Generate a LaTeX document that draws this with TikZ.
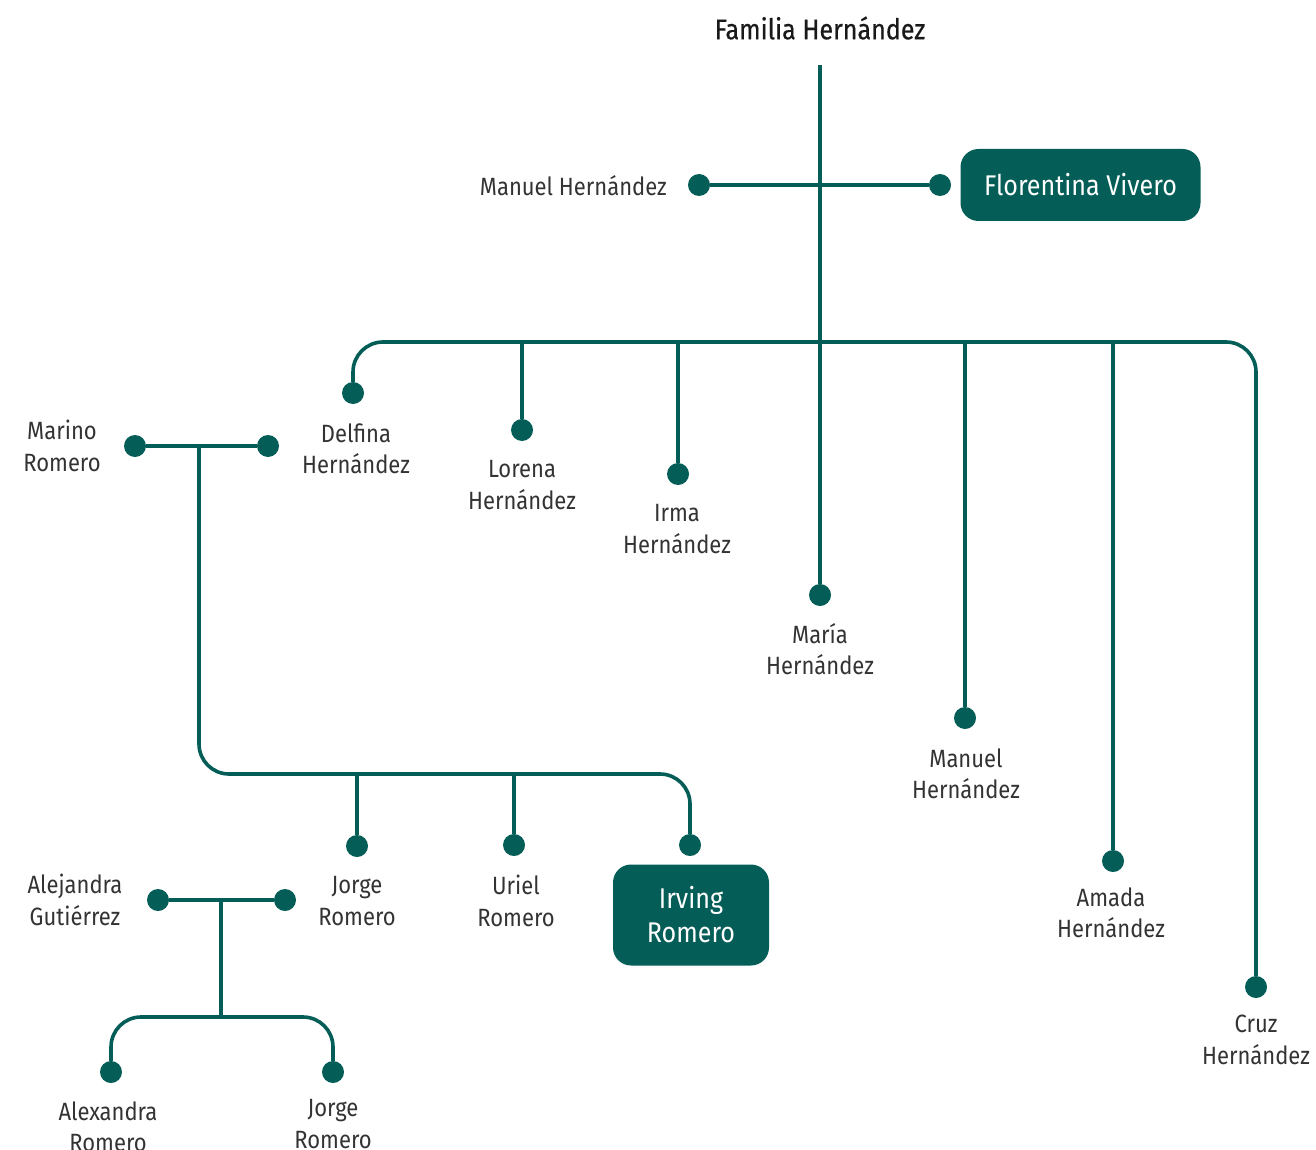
\documentclass[tikz,border=0pt]{standalone}
\usepackage{fontspec}
\setmainfont[FakeStretch=0.88]{Fira Sans}
\newfontfamily\titlefont[FakeStretch=0.88,FakeBold=0.5]{Fira Sans}
\definecolor{teal1}{HTML}{045E57}
\definecolor{txt}{HTML}{333333}
\tikzset{
  conn/.style={draw=teal1, line width=3.6pt, rounded corners=30pt},
  dot/.style={circle, fill=teal1, minimum size=22pt, inner sep=0pt},
  lbl/.style={text=txt, align=center, font=\fontsize{25}{31.5}\selectfont, inner sep=0pt},
  hibox/.style={fill=teal1, rounded corners=18pt, text=white, align=center,
    font=\fontsize{28.5}{34}\selectfont, inner sep=0pt},
}
\begin{document}
\begin{tikzpicture}[x=1pt,y=-1pt]
\useasboundingbox (0,0) rectangle (1316,1150);
% title
\node[text=black!90, font=\titlefont\fontsize{28.5}{30}\selectfont, inner sep=0pt] (title) at (820,28) {Familia Hernández};
\coordinate (top) at (820,65);
% parents
\node[dot] (pm) at (699,185) {};
\node[dot] (pf) at (940,185) {};
\node[lbl, anchor=east] (lpm) at (667,186) {Manuel Hernández};
\node[hibox, minimum width=240pt, minimum height=72pt] (lpf) at (1080.5,185) {Florentina Vivero};
% children dots
\node[dot] (c1) at (353,393) {};
\node[dot] (c2) at (522,430) {};
\node[dot] (c3) at (678,474) {};
\node[dot] (c4) at (820,595) {};
\node[dot] (c5) at (965,718) {};
\node[dot] (c6) at (1113,861) {};
\node[dot] (c7) at (1256,987) {};
\coordinate (bar) at (0,342);
% children labels
\node[lbl] (l1) at (356,449) {Delfina\\Hernández};
\node[lbl] (l2) at (522,485) {Lorena\\Hernández};
\node[lbl] (l3) at (677,529) {Irma\\Hernández};
\node[lbl] (l4) at (820,649) {María\\Hernández};
\node[lbl] (l5) at (966,774) {Manuel\\Hernández};
\node[lbl] (l6) at (1111,913) {Amada\\Hernández};
\node[lbl] (l7) at (1256,1040) {Cruz\\Hernández};
% connectors generation 1
\draw[conn] (pm) -- (pf);
\draw[conn] (top) -- (c4);
\draw[conn] (c1) -- (c1 |- bar) -- (c7 |- bar) -- (c7);
\foreach \c in {c2,c3,c5,c6} \draw[conn] (\c |- bar) -- (\c);
% Marino Romero couple
\node[lbl] (lmr) at (62,446) {Marino\\Romero};
\node[dot] (mr) at (135,446) {};
\node[dot] (md) at (268,446) {};
\coordinate (mmid) at (199,446);
\draw[conn] (mr) -- (md);
% grandchildren
\node[dot] (g1) at (357,846) {};
\node[dot] (g2) at (514,845) {};
\node[dot] (g3) at (690,845) {};
\coordinate (bar2) at (0,774);
\draw[conn] (mmid) -- (mmid |- bar2) -- (g3 |- bar2) -- (g3);
\foreach \g in {g1,g2} \draw[conn] (\g |- bar2) -- (\g);
\node[lbl] (lg1) at (357,901) {Jorge\\Romero};
\node[lbl] (lg2) at (516,901) {Uriel\\Romero};
\node[hibox, minimum width=156pt, minimum height=101pt] (lg3) at (691,915) {Irving\\Romero};
% Alejandra couple
\node[lbl] (lag) at (75,900) {Alejandra\\Gutiérrez};
\node[dot] (ag) at (158,900) {};
\node[dot] (jr) at (285,900) {};
\coordinate (amid) at (221,900);
\draw[conn] (ag) -- (jr);
\node[dot] (h1) at (111,1072) {};
\node[dot] (h2) at (333,1072) {};
\coordinate (bar3) at (0,1017);
\draw[conn] (amid) -- (amid |- bar3);
\draw[conn] (h1) -- (h1 |- bar3) -- (h2 |- bar3) -- (h2);
\node[lbl] (lh1) at (108,1127) {Alexandra\\Romero};
\node[lbl] (lh2) at (333,1124) {Jorge\\Romero};
\end{tikzpicture}
\end{document}
